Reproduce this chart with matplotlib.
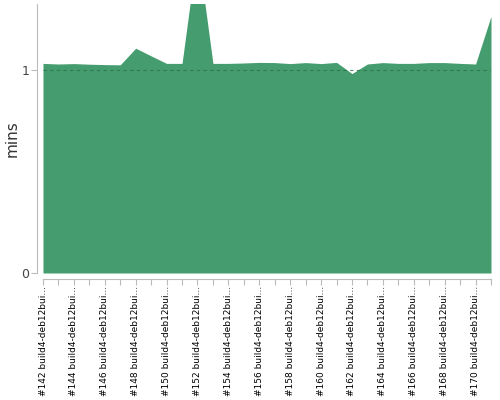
import matplotlib
matplotlib.use("Agg")
import matplotlib.pyplot as plt
import numpy as np

builds = list(range(142, 172))
values = [1.034, 1.031, 1.033, 1.030, 1.028, 1.027, 1.109, 1.071, 1.034, 1.034,
          1.60, 1.034, 1.034, 1.036, 1.039, 1.038, 1.033, 1.038, 1.033, 1.039,
          0.984, 1.031, 1.038, 1.034, 1.034, 1.038, 1.038, 1.034, 1.031, 1.266]
labels = [f"#{b} build4-deb12bui..." if i % 2 == 0 else "" for i, b in enumerate(builds)]

fig = plt.figure(figsize=(5, 4), dpi=100)
ax = fig.add_axes([0.086, 0.3175, 0.896, 0.6725])
x = np.arange(len(values))
ax.fill_between(x, 0, values, color="#459c6e", lw=0)
ax.axhline(1.0, color="#2b6f47", lw=0.8, ls=(0, (3, 3)), alpha=0.8)
ax.set_xlim(0, len(values) - 1)
ax.set_ylim(0, 1.327)
for s in ["top", "right"]:
    ax.spines[s].set_visible(False)
for s in ["left", "bottom"]:
    ax.spines[s].set_position(("outward", 4))
    ax.spines[s].set_color("#bbbbbb")
ax.tick_params(axis="both", colors="#bbbbbb", length=4, width=0.8)
ax.tick_params(axis="y", labelcolor="#444444", labelsize=9, pad=2)
ax.tick_params(axis="x", labelcolor="black", pad=1, labelsize=6.5, labelrotation=90)
ax.set_yticks([0, 1])
ax.set_yticklabels(["0", "1"])
ax.set_xticks(x)
ax.set_xticklabels(labels)
ax.set_ylabel("mins", fontsize=11, color="#333333", labelpad=1)
fig.savefig("out.png", dpi=100)
